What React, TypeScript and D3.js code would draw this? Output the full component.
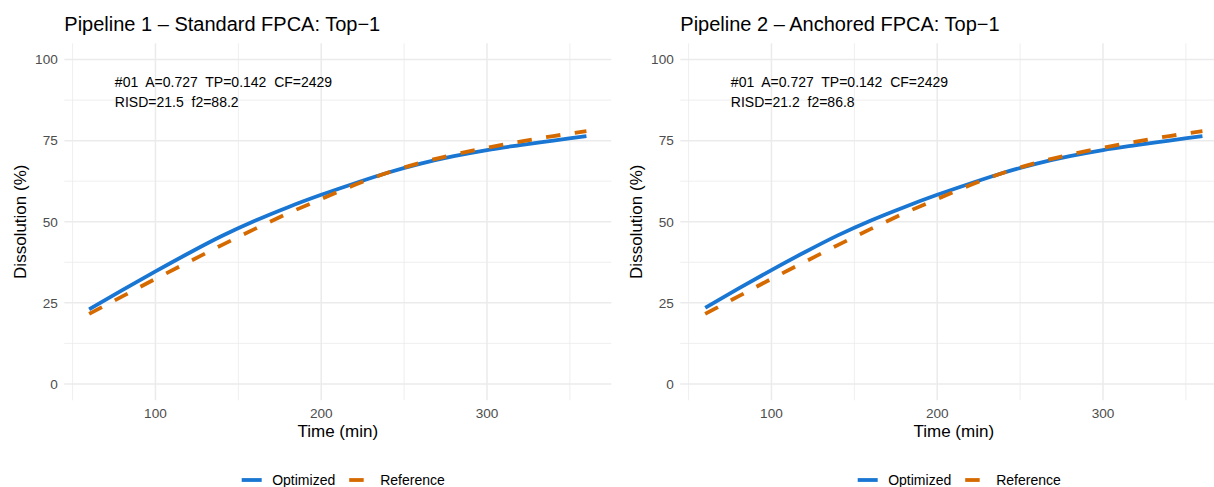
import React from "react";
import * as d3 from "d3";

// Sampling times (min)
const times = [60, 80, 100, 120, 140, 160, 180, 200, 220, 240, 260, 280, 300, 320, 340, 360];

// Pipeline 1 – Standard FPCA, top candidate
const p1Optimized = [23.0, 28.9, 34.7, 40.3, 45.6, 50.3, 54.5, 58.3, 61.8, 65.1, 67.9, 70.2, 72.1, 73.6, 75.0, 76.4];
// Pipeline 2 – Anchored FPCA, top candidate
const p2Optimized = [23.5, 29.4, 35.1, 40.6, 45.8, 50.4, 54.5, 58.3, 61.8, 65.1, 67.9, 70.2, 72.1, 73.6, 75.0, 76.4];
// Reference dissolution profile (shared)
const referenceProfile = [21.6, 27.0, 32.4, 37.6, 42.8, 47.8, 52.6, 57.0, 61.3, 65.1, 68.2, 70.7, 72.8, 74.7, 76.4, 77.9];

const panelTitles = ["Pipeline 1 \u2013 Standard FPCA: Top\u22121", "Pipeline 2 \u2013 Anchored FPCA: Top\u22121"];
const annotationLine1 = ["#01  A=0.727  TP=0.142  CF=2429", "#01  A=0.727  TP=0.142  CF=2429"];
const annotationLine2 = ["RISD=21.5  f2=88.2", "RISD=21.2  f2=86.8"];

const xTicks = [100, 200, 300];
const xMinor = [50, 150, 250, 350];
const yTicks = [0, 25, 50, 75, 100];
const yMinor = [12.5, 37.5, 62.5, 87.5];

const seriesNames = ["Optimized", "Reference"];
const BLUE = "#1976D2";
const ORANGE = "#D56A00";

const FONT = "'Liberation Sans', Arial, Helvetica, sans-serif";
const W = 1214;
const H = 487;
const PANEL_OFFSET = 616;

function Panel({ index }: { index: number }) {
  const off = index * PANEL_OFFSET;
  const left = 64.3 + off;
  const right = 611.3 + off;
  const top = 43.3;
  const bottom = 400.2;

  const x = d3.scaleLinear().domain([45, 375]).range([left, right]);
  const y = d3.scaleLinear().domain([-5, 105]).range([bottom, top]);

  const line = d3
    .line<[number, number]>()
    .x((d) => x(d[0]))
    .y((d) => y(d[1]))
    .curve(d3.curveMonotoneX);

  const opt = index === 0 ? p1Optimized : p2Optimized;
  const optPath = line(times.map((t, i) => [t, opt[i]]) as [number, number][]) || "";
  const refPath = line(times.map((t, i) => [t, referenceProfile[i]]) as [number, number][]) || "";

  const grid = "#EBEBEB";
  const cx = (left + right) / 2;
  const cy = (top + bottom) / 2;
  const annX = x(75.5);
  const annTop = y(95);

  const legX = 241.7 + off;
  const legY = 480;

  return (
    <g>
      {/* minor grid */}
      {yMinor.map((v) => (
        <line key={"ym" + v} x1={left} x2={right} y1={y(v)} y2={y(v)} stroke={grid} strokeWidth={0.8} />
      ))}
      {xMinor.map((v) => (
        <line key={"xm" + v} x1={x(v)} x2={x(v)} y1={top} y2={bottom} stroke={grid} strokeWidth={0.8} />
      ))}
      {/* major grid */}
      {yTicks.map((v) => (
        <line key={"yM" + v} x1={left} x2={right} y1={y(v)} y2={y(v)} stroke={grid} strokeWidth={1.5} />
      ))}
      {xTicks.map((v) => (
        <line key={"xM" + v} x1={x(v)} x2={x(v)} y1={top} y2={bottom} stroke={grid} strokeWidth={1.5} />
      ))}

      {/* curves */}
      <path d={optPath} fill="none" stroke={BLUE} strokeWidth={3.8} />
      <path d={refPath} fill="none" stroke={ORANGE} strokeWidth={3.8} strokeDasharray="14.5 14.5" />

      {/* annotation */}
      <text x={annX} y={annTop + 11.5} fontSize={14} fill="#000" style={{ whiteSpace: "pre" }}>
        {annotationLine1[index]}
      </text>
      <text x={annX} y={annTop + 31} fontSize={14} fill="#000" style={{ whiteSpace: "pre" }}>
        {annotationLine2[index]}
      </text>

      {/* axes text */}
      {yTicks.map((v) => (
        <text key={"yt" + v} x={left - 6.5} y={y(v)} dy="0.35em" textAnchor="end" fontSize={13.6} fill="#4D4D4D">
          {v}
        </text>
      ))}
      {xTicks.map((v) => (
        <text key={"xt" + v} x={x(v)} y={418} textAnchor="middle" fontSize={13.6} fill="#4D4D4D">
          {v}
        </text>
      ))}
      <text x={cx} y={437} textAnchor="middle" fontSize={17} fill="#000">
        Time (min)
      </text>
      <text
        transform={`translate(${26 + off},${cy}) rotate(-90)`}
        textAnchor="middle"
        fontSize={17}
        fill="#000"
      >
        Dissolution (%)
      </text>

      {/* title */}
      <text x={left} y={31} fontSize={20} fill="#000">
        {panelTitles[index]}
      </text>

      {/* legend */}
      <line x1={legX} x2={legX + 20} y1={legY} y2={legY} stroke={BLUE} strokeWidth={3.8} />
      <text x={legX + 30.5} y={legY} dy="0.35em" fontSize={14} fill="#000">
        {seriesNames[0]}
      </text>
      <line
        x1={legX + 107.5}
        x2={legX + 127.5}
        y1={legY}
        y2={legY}
        stroke={ORANGE}
        strokeWidth={3.8}
        strokeDasharray="14.5 14.5"
      />
      <text x={legX + 138.5} y={legY} dy="0.35em" fontSize={14} fill="#000">
        {seriesNames[1]}
      </text>
    </g>
  );
}

export default function App() {
  return (
    <svg
      width={W}
      height={H}
      viewBox={`0 0 ${W} ${H}`}
      style={{ position: "absolute", left: 0, top: 0, background: "#fff", fontFamily: FONT }}
    >
      <rect width={W} height={H} fill="#fff" />
      <Panel index={0} />
      <Panel index={1} />
    </svg>
  );
}
